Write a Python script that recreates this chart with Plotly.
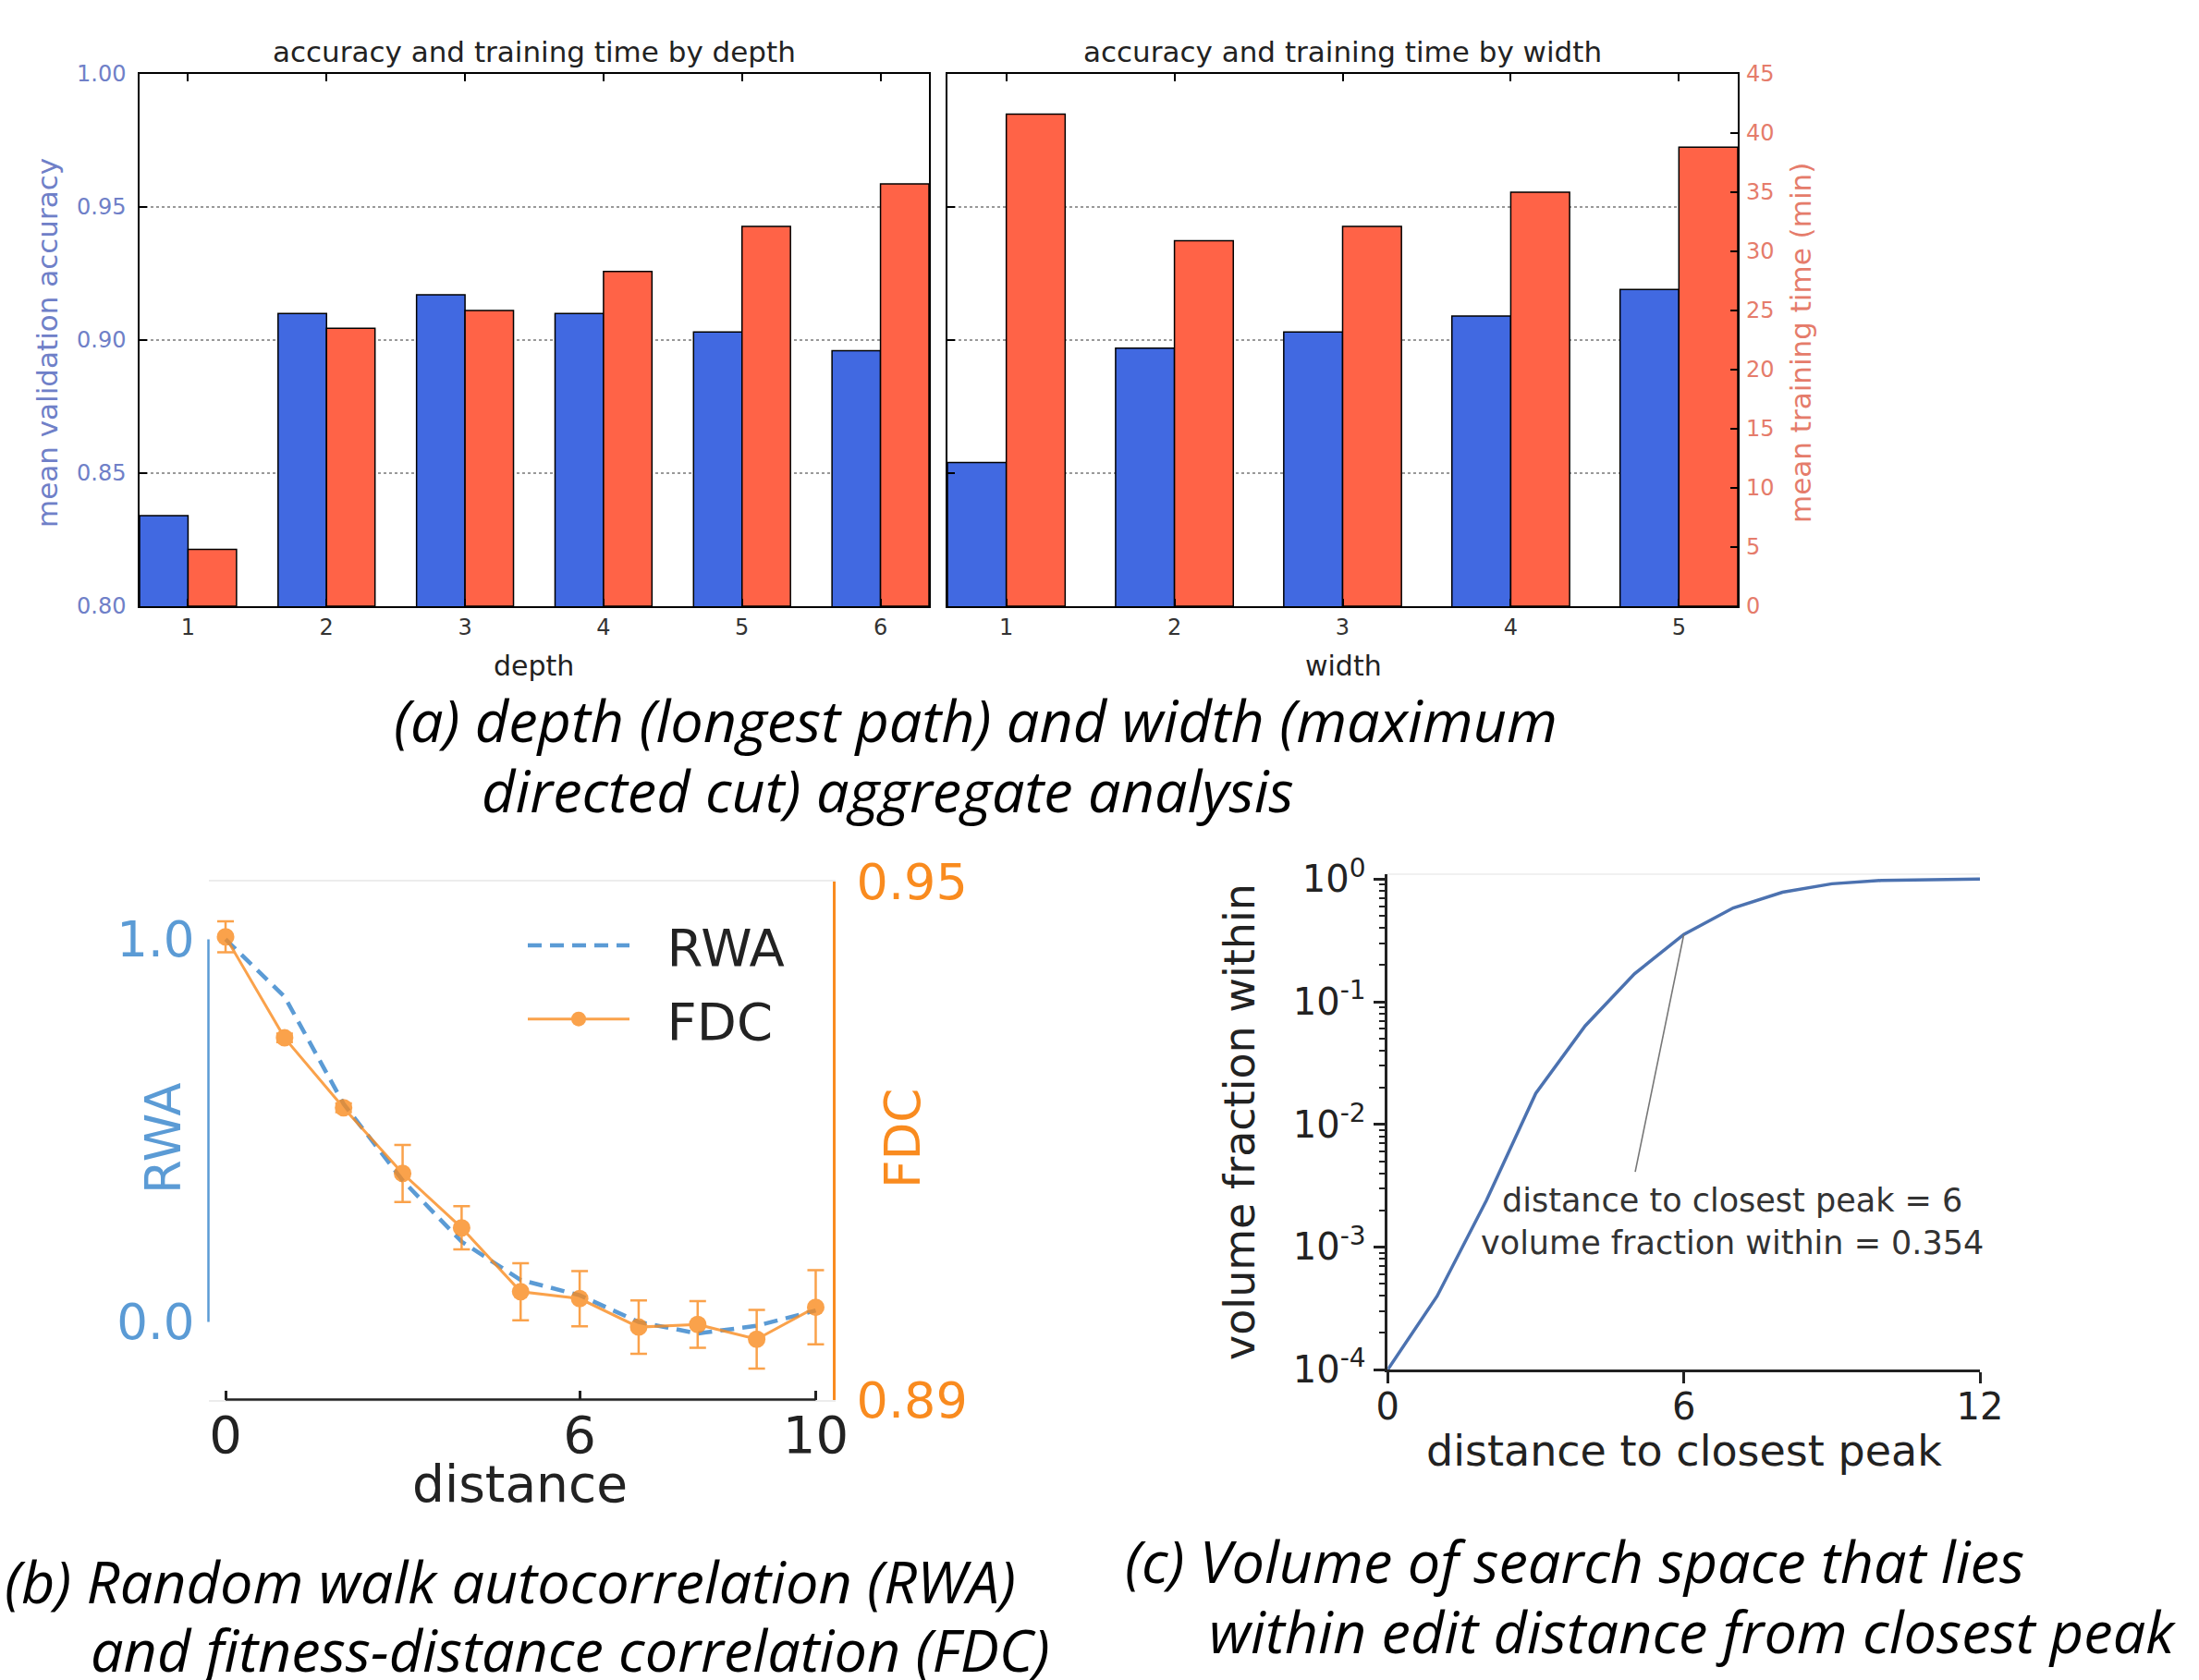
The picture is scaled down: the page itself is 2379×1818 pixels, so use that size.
import math
import plotly.graph_objects as go

W, H = 2379, 1818


def px(x):
    return x / W


def py(y):
    return 1 - y / H


# ---------------- data ----------------
depth = [1, 2, 3, 4, 5, 6]
depth_acc = [0.834, 0.910, 0.917, 0.910, 0.903, 0.896]
depth_time = [4.8, 23.5, 25.0, 28.3, 32.1, 35.7]

width_cat = [1, 2, 3, 4, 5]
width_acc = [0.854, 0.897, 0.903, 0.909, 0.919]
width_time = [41.6, 30.9, 32.1, 35.0, 38.8]

acc_ticks = [0.80, 0.85, 0.90, 0.95, 1.00]
acc_ticktext = ["0.80", "0.85", "0.90", "0.95", "1.00"]
time_ticks = [0, 5, 10, 15, 20, 25, 30, 35, 40, 45]

distance = [0, 1, 2, 3, 4, 5, 6, 7, 8, 9, 10]
rwa = [1.0, 0.85, 0.57, 0.37, 0.21, 0.11, 0.07, 0.0, -0.03, -0.01, 0.03]
fdc = [0.9436, 0.9319, 0.9238, 0.9162, 0.9099, 0.9025, 0.9017, 0.8984, 0.8987, 0.8970, 0.9007]
fdc_err = [0.0018, 0.0005, 0.0005, 0.0033, 0.0025, 0.0033, 0.0032, 0.0031, 0.0027, 0.0034, 0.0043]

peak_dist = [0, 1, 2, 3, 4, 5, 6, 7, 8, 9, 10, 11, 12]
vol_frac = [1e-4, 3.97e-4, 2.4e-3, 0.0179, 0.0635, 0.169, 0.354, 0.582, 0.781, 0.916, 0.976, 0.995, 1.0]
log_ticks = [1e-4, 1e-3, 1e-2, 1e-1, 1.0]
log_ticktext = ["10<sup>-4</sup>", "10<sup>-3</sup>", "10<sup>-2</sup>", "10<sup>-1</sup>", "10<sup>0</sup>"]
minor_log = [k * 10.0 ** e for e in range(-4, 0) for k in range(2, 10)]

# ---------------- style ----------------
BLUE = "#4169E1"
RED = "#FF6347"
ACC_LBL = "#6F80C8"
TIME_LBL = "#E57C6B"
B_BLUE = "#5B9BD5"
B_ORANGE = "#F98B1F"
C_BLUE = "#4C72B0"
DARK = "#222222"
FONT = "DejaVu Sans"
CAP_FONT = "Open Sans"

fig = go.Figure()

bar_line = dict(color="black", width=1.5)
fig.add_trace(go.Bar(x=depth, y=depth_acc, xaxis="x", yaxis="y", width=0.35, offset=-0.35,
                     marker=dict(color=BLUE, line=bar_line), showlegend=False))
fig.add_trace(go.Bar(x=depth, y=depth_time, xaxis="x", yaxis="y2", width=0.35, offset=0,
                     marker=dict(color=RED, line=bar_line), showlegend=False))
fig.add_trace(go.Bar(x=width_cat, y=width_acc, xaxis="x2", yaxis="y3", width=0.35, offset=-0.35,
                     marker=dict(color=BLUE, line=bar_line), showlegend=False))
fig.add_trace(go.Bar(x=width_cat, y=width_time, xaxis="x2", yaxis="y4", width=0.35, offset=0,
                     marker=dict(color=RED, line=bar_line), showlegend=False))

fig.add_trace(go.Scatter(x=distance, y=rwa, xaxis="x3", yaxis="y5", mode="lines",
                         name="&nbsp;&nbsp;RWA",
                         legendgroup="rwa", line=dict(color=B_BLUE, width=4.5, dash="15px,9px")))
fig.add_trace(go.Scatter(x=distance, y=fdc, xaxis="x3", yaxis="y6", mode="lines+markers",
                         name="&nbsp;&nbsp;FDC", legendgroup="fdc",
                         line=dict(color=B_ORANGE, width=3), marker=dict(size=19, color=B_ORANGE),
                         error_y=dict(type="data", array=fdc_err, color=B_ORANGE, thickness=2.5, width=9),
                         opacity=0.8))

fig.add_trace(go.Scatter(x=peak_dist, y=vol_frac, xaxis="x4", yaxis="y7", mode="lines",
                         line=dict(color=C_BLUE, width=3.5), showlegend=False))

top_dom = [py(656), py(80)]
common_x_top = dict(ticks="inside", ticklen=8, tickwidth=1.5, tickcolor="black", showline=True,
                    linecolor="black", linewidth=1.5, mirror="ticks", showgrid=False, zeroline=False,
                    automargin=False, tickfont=dict(size=24, color="#333", family=FONT))
common_acc = dict(range=[0.8, 1.0], tickvals=acc_ticks, ticktext=acc_ticktext, ticks="inside", ticklen=8,
                  tickwidth=1.5, tickcolor="black", showline=True, linecolor="black", linewidth=1.5,
                  mirror=True, showgrid=True, gridcolor="#999999", griddash="dot", gridwidth=1.5,
                  zeroline=False, domain=top_dom, automargin=False)

fig.update_layout(
    width=W, height=H, margin=dict(l=0, r=0, t=0, b=0, pad=0, autoexpand=False),
    paper_bgcolor="white", plot_bgcolor="rgba(0,0,0,0)", barmode="overlay",
    font=dict(family=FONT, color=DARK),
    xaxis=dict(domain=[px(151), px(1005)], range=[0.65, 6.35], anchor="y", tickvals=depth, **common_x_top),
    yaxis=dict(anchor="x", tickfont=dict(size=24, color=ACC_LBL, family=FONT), ticklabelstandoff=8,
               **common_acc),
    yaxis2=dict(overlaying="y", side="right", anchor="x", range=[0, 45], showticklabels=False,
                showgrid=False, zeroline=False, ticks="", automargin=False),
    xaxis2=dict(domain=[px(1025), px(1880)], range=[0.65, 5.35], anchor="y3", tickvals=width_cat,
                **common_x_top),
    yaxis3=dict(anchor="x2", showticklabels=False, **common_acc),
    yaxis4=dict(overlaying="y3", side="right", anchor="x2", range=[0, 45], tickvals=time_ticks,
                ticks="inside", ticklen=8, tickwidth=1.5, tickcolor="black", showgrid=False,
                zeroline=False, automargin=False,
                tickfont=dict(size=24, color=TIME_LBL, family=FONT), ticklabelstandoff=8),
    xaxis3=dict(domain=[px(225.5), px(901)], anchor="y5", range=[-0.29, 10.29], tickvals=[0, 6, 10],
                ticks="inside", ticklen=10, tickwidth=2.5, tickcolor=DARK, showline=True,
                linecolor="#ececec", linewidth=1.5, mirror=True, showgrid=False, zeroline=False,
                automargin=False, tickfont=dict(size=56, color=DARK, family=FONT), ticklabelstandoff=-12),
    yaxis5=dict(domain=[py(1514.6), py(954)], anchor="x3", range=[-0.2028, 1.1507], tickvals=[0, 1],
                ticktext=["0.0", "1.0"], ticks="", showline=False, showgrid=False, zeroline=False,
                automargin=False, tickfont=dict(size=53, color=B_BLUE, family=FONT), ticklabelstandoff=14),
    yaxis6=dict(overlaying="y5", side="right", anchor="x3", range=[0.89, 0.95], tickvals=[0.89, 0.95],
                ticktext=["0.89", "0.95"], ticks="", showline=True, linecolor=B_ORANGE, linewidth=2.5,
                showgrid=False, zeroline=False, automargin=False,
                tickfont=dict(size=54, color=B_ORANGE, family=FONT), ticklabelstandoff=12),
    xaxis4=dict(domain=[px(1501.3), px(2142)], anchor="y7", range=[0, 12], tickvals=[0, 6, 12],
                ticks="outside", ticklen=12, tickwidth=2.5, tickcolor=DARK, showline=True, linecolor=DARK,
                linewidth=2.5, showgrid=False, zeroline=False, automargin=False,
                tickfont=dict(size=40, color=DARK, family=FONT), ticklabelstandoff=-9),
    yaxis7=dict(domain=[py(1482.2), py(946)], anchor="x4", type="log", range=[-4, 0.04],
                tickvals=log_ticks, ticktext=log_ticktext, ticks="outside", ticklen=13, tickwidth=2.5,
                tickcolor=DARK, showline=True, linecolor=DARK, linewidth=2.5, showgrid=False,
                zeroline=False, automargin=False, tickfont=dict(size=40, color=DARK, family=FONT),
                minor=dict(tickvals=minor_log, ticks="outside", ticklen=7, tickwidth=1.5, tickcolor=DARK)),
    legend=dict(x=px(566), y=py(980), xanchor="left", yanchor="top", bgcolor="rgba(0,0,0,0)",
                font=dict(size=56, color=DARK, family=FONT), traceorder="grouped", tracegroupgap=4,
                itemwidth=110),
)

# trimmed spines for panel (b) and faint frame for (c)
fig.add_shape(type="line", xref="x3", yref="y5 domain", x0=0, x1=10, y0=0, y1=0,
              line=dict(color=DARK, width=2.5))
fig.add_shape(type="line", xref="x3 domain", yref="y5", x0=0, x1=0, y0=0, y1=1,
              line=dict(color=B_BLUE, width=2.5))
fig.add_shape(type="line", xref="x4 domain", yref="y7 domain", x0=0, x1=1, y0=1, y1=1,
              line=dict(color="#ececec", width=1.5))

ann = []


def txt(x, y, text, size, color=DARK, angle=0, family=FONT, xanchor="center"):
    ann.append(dict(x=px(x), y=py(y), xref="paper", yref="paper", text=text, showarrow=False,
                    font=dict(size=size, color=color, family=family), textangle=angle,
                    xanchor=xanchor, yanchor="middle"))


# panel (a)
txt(578, 56, "accuracy and training time by depth", 31)
txt(1452, 56, "accuracy and training time by width", 31)
txt(577, 720, "depth", 30)
txt(1453, 720, "width", 30)
txt(51, 371, "mean validation accuracy", 31, ACC_LBL, -90)
txt(1948, 371, "mean training time (min)", 31, TIME_LBL, -90)
# panel (b)
txt(176, 1232, "RWA", 53, B_BLUE, -90)
txt(976, 1232, "FDC", 53, B_ORANGE, -90)
txt(562, 1606, "distance", 55)
# panel (c)
txt(1341, 1214, "volume fraction within", 46, DARK, -90)
txt(1822, 1570, "distance to closest peak", 46)
txt(1874, 1322, "distance to closest peak = 6<br>volume fraction within = 0.354", 35, "#333333")
ann.append(dict(x=6, y=math.log10(vol_frac[6]), xref="x4", yref="y7", text=" ", showarrow=True,
                arrowhead=0, arrowwidth=1.6, arrowcolor="#777777", ax=-53, ay=259, standoff=0,
                font=dict(size=1)))

# captions
CAP = 63
txt(424, 778, "<i>(a) depth (longest path) and width (maximum</i>", CAP, "black", 0, CAP_FONT, "left")
txt(519, 854, "<i>directed cut) aggregate analysis</i>", CAP, "black", 0, CAP_FONT, "left")
txt(3, 1710, "<i>(b) Random walk autocorrelation (RWA)</i>", CAP, "black", 0, CAP_FONT, "left")
txt(96, 1784, "<i>and fitness-distance correlation (FDC)</i>", CAP, "black", 0, CAP_FONT, "left")
txt(1215, 1688, "<i>(c) Volume of search space that lies</i>", CAP, "black", 0, CAP_FONT, "left")
txt(1306, 1764, "<i>within edit distance from closest peak</i>", CAP, "black", 0, CAP_FONT, "left")

fig.update_layout(annotations=ann)

fig.write_html("out.html")
